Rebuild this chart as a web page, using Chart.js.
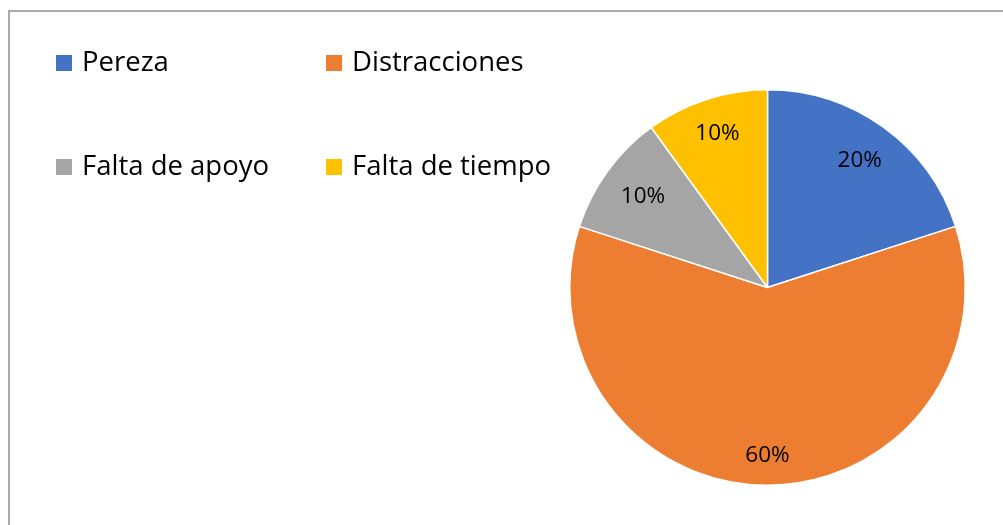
<!DOCTYPE html>
<html>
<head>
<meta charset="utf-8">
<script src="https://cdn.jsdelivr.net/npm/chart.js@4.4.1/dist/chart.umd.min.js"></script>
<style>
  html, body { margin: 0; padding: 0; background: #ffffff; }
  #wrap { position: relative; width: 1003px; height: 525px; }
</style>
</head>
<body>
<div id="wrap"><canvas id="c" width="1003" height="525"></canvas></div>
<script>
const categories = ['Pereza', 'Distracciones', 'Falta de apoyo', 'Falta de tiempo'];
const values = [20, 60, 10, 10];
const valueLabels = ['20%', '60%', '10%', '10%'];
const colors = ['#4472C4', '#ED7D31', '#A5A5A5', '#FFC000'];

const FONT = '"Open Sans", Lato, sans-serif';

const framePlugin = {
  id: 'frame',
  beforeDraw(chart) {
    const ctx = chart.ctx;
    ctx.save();
    ctx.fillStyle = '#ffffff';
    ctx.fillRect(0, 0, chart.width, chart.height);
    ctx.strokeStyle = '#ababab';
    ctx.lineWidth = 2;
    ctx.strokeRect(9, 11, 1100, 700);
    ctx.restore();
  }
};

const legendPlugin = {
  id: 'customLegend',
  afterDraw(chart, args, opts) {
    const ctx = chart.ctx;
    ctx.save();
    ctx.font = opts.fontSize + 'px ' + FONT;
    ctx.textBaseline = 'middle';
    ctx.textAlign = 'left';
    chart.data.labels.forEach((lab, i) => {
      const col = i % 2, row = Math.floor(i / 2);
      const x = opts.colX[col], y = opts.rowY[row];
      ctx.fillStyle = chart.data.datasets[0].backgroundColor[i];
      ctx.fillRect(x, y - opts.box / 2, opts.box, opts.box);
      ctx.fillStyle = '#000000';
      ctx.fillText(lab, x + opts.textGap, y);
    });
    ctx.restore();
  }
};

const dataLabelPlugin = {
  id: 'sliceLabels',
  afterDatasetsDraw(chart, args, opts) {
    const ctx = chart.ctx;
    const meta = chart.getDatasetMeta(0);
    ctx.save();
    ctx.font = opts.fontSize + 'px ' + FONT;
    ctx.fillStyle = '#000000';
    ctx.textAlign = 'center';
    ctx.textBaseline = 'middle';
    meta.data.forEach((arc, i) => {
      const p = arc.getProps(['x', 'y', 'startAngle', 'endAngle', 'outerRadius'], true);
      const mid = (p.startAngle + p.endAngle) / 2;
      const txt = valueLabels[i];
      const halfW = ctx.measureText(txt).width / 2;
      const halfH = opts.fontSize * 0.37;
      const ext = halfW * Math.abs(Math.cos(mid)) + halfH * Math.abs(Math.sin(mid));
      const r = p.outerRadius - opts.inset - ext;
      ctx.fillText(txt, p.x + Math.cos(mid) * r, p.y + Math.sin(mid) * r);
    });
    ctx.restore();
  }
};

new Chart(document.getElementById('c'), {
  type: 'pie',
  data: {
    labels: categories,
    datasets: [{
      data: values,
      backgroundColor: colors,
      borderColor: '#ffffff',
      borderWidth: 1.5
    }]
  },
  options: {
    responsive: false,
    animation: false,
    layout: { padding: { left: 569, right: 37, top: 89, bottom: 39 } },
    plugins: {
      legend: { display: false },
      tooltip: { enabled: false },
      customLegend: { colX: [56, 326], rowY: [63, 167], box: 16, textGap: 26, fontSize: 27.5 },
      sliceLabels: { inset: 21, fontSize: 22.5 }
    }
  },
  plugins: [framePlugin, legendPlugin, dataLabelPlugin]
});
</script>
</body>
</html>
